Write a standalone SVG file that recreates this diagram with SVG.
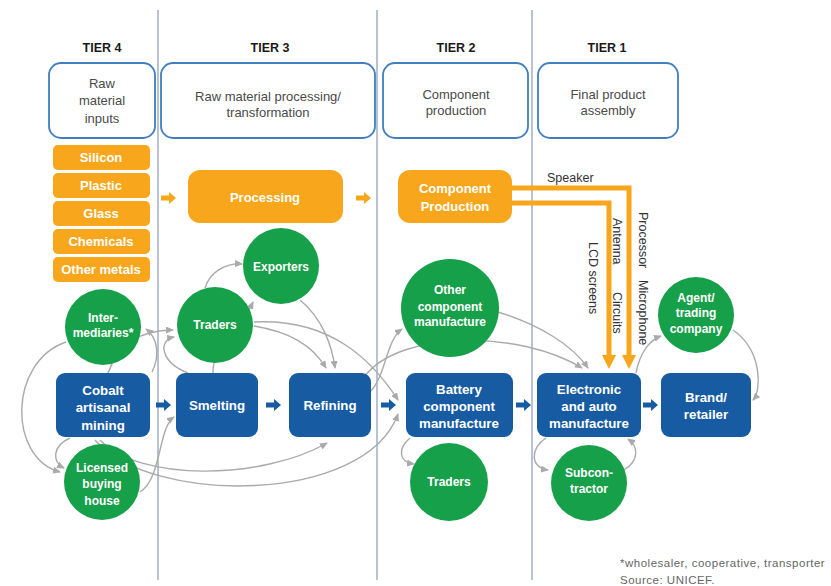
<svg xmlns="http://www.w3.org/2000/svg" width="831" height="586" viewBox="0 0 831 586">
<style>
.f{font-family:"Liberation Sans",Arial,sans-serif}
.tier{font-size:12.5px;font-weight:bold;fill:#1a1a1a;text-anchor:middle}
.hdr{fill:#fff;stroke:#3f7fc0;stroke-width:1.8}
.ht{font-size:13px;fill:#4a4a4a;text-anchor:middle}
.ob{fill:#f8a61c}
.ot{font-size:13px;font-weight:bold;fill:#fff;text-anchor:middle}
.bb{fill:#175ca3}
.bt{font-size:13.3px;font-weight:bold;fill:#fff;text-anchor:middle}
.gc{fill:#17a04a}
.gt{font-size:12px;font-weight:bold;fill:#fff;text-anchor:middle}
.vl{stroke:#a8b3c9;stroke-width:1.6}
.cv{fill:none;stroke:#aaaaaa;stroke-width:1.4;marker-end:url(#ga)}
.ol{fill:none;stroke:#f8a61c;stroke-width:5}
.lbl{font-size:12.5px;fill:#333}
.fn{font-family:"Liberation Sans",Arial,sans-serif;font-size:11.5px;fill:#666;letter-spacing:0.5px}
</style>
<defs>
<marker id="ga" markerUnits="userSpaceOnUse" markerWidth="8" markerHeight="7" refX="7" refY="3.5" orient="auto">
<path d="M0,0 L8,3.5 L0,7 z" fill="#aaaaaa"/>
</marker>
<path id="arr" d="M0,-2.6 H8 V-6 L15,0 L8,6 V2.6 H0 Z"/>
</defs>
<rect width="831" height="586" fill="#fff"/>

<g id="tier-lines">
<line class="vl" x1="158" y1="10" x2="158" y2="580"/>
<line class="vl" x1="377" y1="10" x2="377" y2="580"/>
<line class="vl" x1="532" y1="10" x2="532" y2="580"/>
</g>

<g id="tiers" class="f">
<text class="tier" x="102" y="52">TIER 4</text>
<text class="tier" x="270" y="52">TIER 3</text>
<text class="tier" x="456" y="52">TIER 2</text>
<text class="tier" x="607" y="52">TIER 1</text>
</g>

<g id="hdr4" class="f"><rect class="hdr" x="49" y="63" width="106" height="75" rx="12"/>
<text class="ht" x="102" y="88">Raw</text><text class="ht" x="102" y="105">material</text><text class="ht" x="102" y="123">inputs</text></g>
<g id="hdr3" class="f"><rect class="hdr" x="161" y="63" width="214" height="75" rx="12"/>
<text class="ht" x="268" y="101">Raw material processing/</text><text class="ht" x="268" y="117">transformation</text></g>
<g id="hdr2" class="f"><rect class="hdr" x="383" y="63" width="145" height="75" rx="12"/>
<text class="ht" x="456" y="99">Component</text><text class="ht" x="456" y="115">production</text></g>
<g id="hdr1" class="f"><rect class="hdr" x="538" y="63" width="140" height="75" rx="12"/>
<text class="ht" x="608" y="99">Final product</text><text class="ht" x="608" y="115">assembly</text></g>

<g id="silicon" class="f"><rect class="ob" x="53" y="145" width="97" height="25" rx="5"/><text class="ot" x="101" y="162">Silicon</text></g>
<g id="plastic" class="f"><rect class="ob" x="53" y="173" width="97" height="25" rx="5"/><text class="ot" x="101" y="190">Plastic</text></g>
<g id="glass" class="f"><rect class="ob" x="53" y="201" width="97" height="25" rx="5"/><text class="ot" x="101" y="218">Glass</text></g>
<g id="chemicals" class="f"><rect class="ob" x="53" y="229" width="97" height="25" rx="5"/><text class="ot" x="101" y="246">Chemicals</text></g>
<g id="othermetals" class="f"><rect class="ob" x="53" y="257" width="97" height="25" rx="5"/><text class="ot" x="101" y="274">Other metals</text></g>

<g id="processing" class="f"><rect class="ob" x="188" y="170" width="155" height="53" rx="12"/><text class="ot" x="265" y="202" font-size="13.5">Processing</text></g>
<g id="compprod" class="f"><rect class="ob" x="398" y="170" width="114" height="53" rx="12"/><text class="ot" x="455" y="193">Component</text><text class="ot" x="455" y="211">Production</text></g>

<g id="connectors">
<use href="#arr" x="161" y="198" fill="#f8a61c"/>
<use href="#arr" x="356" y="198" fill="#f8a61c"/>
<path class="ol" d="M512,188 H629 V357"/>
<path class="ol" d="M512,203 H609 V357"/>
<polygon points="622,355 636,355 629,369" fill="#f8a61c"/>
<polygon points="602,355 616,355 609,369" fill="#f8a61c"/>
<use href="#arr" x="156" y="405" fill="#175ca3"/>
<use href="#arr" x="266" y="405" fill="#175ca3"/>
<use href="#arr" x="381" y="405" fill="#175ca3"/>
<use href="#arr" x="516" y="405" fill="#175ca3"/>
<use href="#arr" x="643" y="405" fill="#175ca3"/>

<path class="cv" d="M66,342 C8,362 8,458 60,472"/>
<path class="cv" d="M70,438 C52,446 52,462 64,468"/>
<path class="cv" d="M140,492 C162,478 158,428 174,417"/>
<path class="cv" d="M100,440 C140,482 262,480 327,443"/>
<path class="cv" d="M95,440 C150,505 365,505 398,414"/>
<path class="cv" d="M108,373 C118,345 140,330 173,330"/>
<path class="cv" d="M152,372 C160,356 158,338 146,329"/>
<path class="cv" d="M188,373 C160,362 158,340 174,337"/>
<path class="cv" d="M205,288 C210,272 225,263 242,264"/>
<path class="cv" d="M213,373 C212,345 240,330 253,302"/>
<path class="cv" d="M300,300 C322,318 332,345 335,368"/>
<path class="cv" d="M254,326 C290,332 312,345 326,368"/>
<path class="cv" d="M254,322 C330,318 372,360 398,400"/>
<path class="cv" d="M370,392 C386,376 386,340 402,329"/>
<path class="cv" d="M365,376 C400,330 520,330 582,368"/>
<path class="cv" d="M498,312 C540,325 572,345 588,368"/>
<path class="cv" d="M410,438 C398,448 398,462 414,464"/>
<path class="cv" d="M546,438 C530,448 530,468 548,470"/>
<path class="cv" d="M624,470 C640,460 638,446 628,439"/>
<path class="cv" d="M636,373 C640,352 650,340 661,336"/>
<path class="cv" d="M733,330 C762,350 762,390 753,400"/>
</g>

<g id="labels" class="f lbl">
<text x="547" y="182">Speaker</text>
<text transform="translate(639,212) rotate(90)">Processor</text>
<text transform="translate(639,280) rotate(90)">Microphone</text>
<text transform="translate(613,218) rotate(90)">Antenna</text>
<text transform="translate(613,292) rotate(90)">Circuits</text>
<text transform="translate(589,242) rotate(90)">LCD screens</text>
</g>

<g id="cobalt" class="f"><rect class="bb" x="56" y="373" width="94" height="64" rx="9"/>
<text class="bt" x="103" y="395">Cobalt</text><text class="bt" x="103" y="412">artisanal</text><text class="bt" x="103" y="430">mining</text></g>
<g id="smelting" class="f"><rect class="bb" x="176" y="373" width="82" height="64" rx="9"/><text class="bt" x="217" y="410">Smelting</text></g>
<g id="refining" class="f"><rect class="bb" x="289" y="373" width="82" height="64" rx="9"/><text class="bt" x="330" y="410">Refining</text></g>
<g id="battery" class="f"><rect class="bb" x="406" y="373" width="107" height="64" rx="9"/>
<text class="bt" x="459" y="394">Battery</text><text class="bt" x="459" y="411">component</text><text class="bt" x="459" y="428">manufacture</text></g>
<g id="electronic" class="f"><rect class="bb" x="537" y="373" width="104" height="64" rx="9"/>
<text class="bt" x="589" y="394">Electronic</text><text class="bt" x="589" y="411">and auto</text><text class="bt" x="589" y="428">manufacture</text></g>
<g id="brand" class="f"><rect class="bb" x="661" y="373" width="90" height="64" rx="9"/>
<text class="bt" x="706" y="402">Brand/</text><text class="bt" x="706" y="419">retailer</text></g>

<g id="intermediaries" class="f"><circle class="gc" cx="103" cy="327" r="38"/>
<text class="gt" x="103" y="322">Inter-</text><text class="gt" x="103" y="337">mediaries*</text></g>
<g id="licensed" class="f"><circle class="gc" cx="102" cy="482" r="38"/>
<text class="gt" x="102" y="472">Licensed</text><text class="gt" x="102" y="488">buying</text><text class="gt" x="102" y="505">house</text></g>
<g id="traders3" class="f"><circle class="gc" cx="215" cy="325" r="38"/><text class="gt" x="215" y="329">Traders</text></g>
<g id="exporters" class="f"><circle class="gc" cx="281" cy="266" r="38"/><text class="gt" x="281" y="271">Exporters</text></g>
<g id="othercomp" class="f"><circle class="gc" cx="450" cy="308" r="49"/>
<text class="gt" x="450" y="294" font-size="11">Other</text><text class="gt" x="450" y="311" font-size="11">component</text><text class="gt" x="450" y="326" font-size="11">manufacture</text></g>
<g id="traders2" class="f"><circle class="gc" cx="449" cy="482" r="39"/><text class="gt" x="449" y="486">Traders</text></g>
<g id="subcontractor" class="f"><circle class="gc" cx="589" cy="483" r="38"/>
<text class="gt" x="589" y="477">Subcon-</text><text class="gt" x="589" y="493">tractor</text></g>
<g id="agent" class="f"><circle class="gc" cx="696" cy="315" r="38"/>
<text class="gt" x="696" y="302">Agent/</text><text class="gt" x="696" y="317">trading</text><text class="gt" x="696" y="333">company</text></g>

<g id="footnote">
<text class="fn" x="620" y="567">*wholesaler, cooperative, transporter</text>
<text class="fn" x="620" y="584">Source: UNICEF.</text>
</g>
</svg>
